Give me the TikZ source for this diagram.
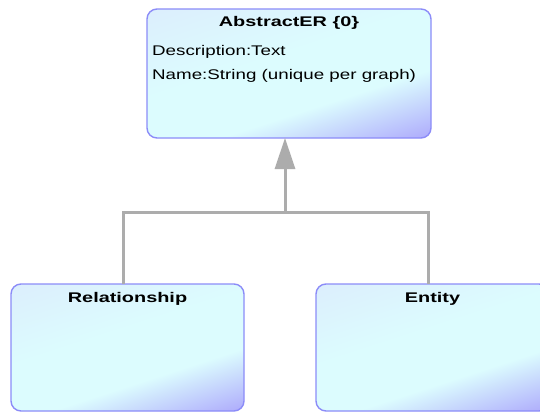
\documentclass[tikz,border=0pt]{standalone}
\usepackage{fontspec}
\usetikzlibrary{arrows.meta}
\newfontfamily\umlreg{Liberation Sans}[FakeStretch=1.34]
\newfontfamily\umlbold{Liberation Sans Bold}[FakeStretch=1.42]
\definecolor{boxlav}{HTML}{DCE4FC}
\definecolor{boxcyan}{HTML}{DCFCFE}
\definecolor{boxpurple}{HTML}{ACA8FC}
\definecolor{boxedge}{HTML}{8C8CF8}
\definecolor{connline}{HTML}{ACACAC}
\pgfdeclareverticalshading{umlshade}{100bp}{%
  color(0bp)=(boxpurple); color(18bp)=(boxpurple); color(38bp)=(boxcyan);
  color(56bp)=(boxcyan); color(100bp)=(boxlav)}
\tikzset{
  classbox/.style={draw=boxedge, line width=1.4pt, rounded corners=10pt,
    shading=umlshade, shading angle=18, inner sep=0pt, outer sep=0pt,
    anchor=north west},
  classtitle/.style={font=\umlbold\fontsize{14}{16}\selectfont, inner sep=0pt,
    anchor=base},
  attrtext/.style={font=\umlreg\fontsize{14}{16}\selectfont, inner sep=0pt,
    anchor=base west},
  conn/.style={draw=connline, line width=3pt},
}
\begin{document}
\begin{tikzpicture}[x=1pt, y=-1pt]
  \useasboundingbox (0,0) rectangle (540,412);
  \fill[white] (0,0) rectangle (540,412);
  \clip (0,0) rectangle (540,412);

  % class boxes
  \node[classbox, minimum width=284pt, minimum height=129pt] (abs) at (147,9) {};
  \node[classbox, minimum width=233pt, minimum height=127pt] (rel) at (11,284) {};
  \node[classbox, minimum width=233pt, minimum height=127pt] (ent) at (316,284) {};

  % titles and attributes (shifts are in page direction: negative is down)
  \node[classtitle] (absname) at ([yshift=-18pt]abs.north) {AbstractER \{0\}};
  \node[attrtext] (attr1) at ([xshift=5pt, yshift=-47pt]abs.north west) {Description:Text};
  \node[attrtext] (attr2) at ([xshift=5pt, yshift=-70pt]abs.north west) {Name:String (unique per graph)};
  \node[classtitle] (relname) at ([yshift=-18pt]rel.north) {Relationship};
  \node[classtitle] (entname) at ([yshift=-18pt]ent.north) {Entity};

  % generalization connectors
  \coordinate (joint) at (285,212);
  \draw[conn] ([xshift=-4pt]rel.north) |- (joint) -| ([xshift=-4pt]ent.north);
  \draw[conn, -{Triangle[length=31pt, width=20pt]}] (joint) -- ([xshift=-4pt]abs.south);
\end{tikzpicture}
\end{document}
